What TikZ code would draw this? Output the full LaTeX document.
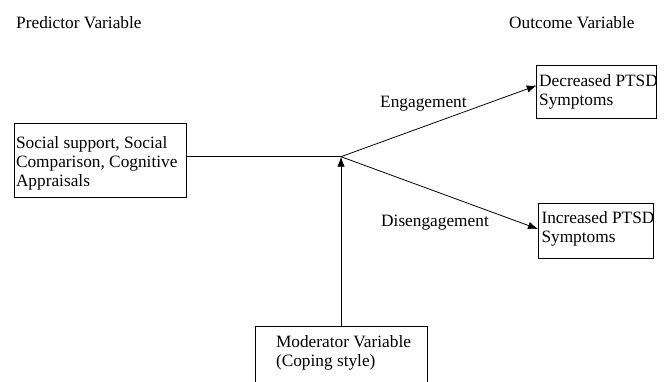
\documentclass[tikz,border=0pt]{standalone}
\usepackage{fontspec}
\setmainfont{Liberation Serif}
\usetikzlibrary{arrows.meta}
\newcommand\bxt[5]{\parbox[c][#2][t]{#1}{\vspace*{#4}\leftskip=#3\relax\hfuzz=20pt\noindent\strut#5}}
\begin{document}
\begin{tikzpicture}[x=1pt,y=-1pt,
  every node/.style={font=\fontsize{17.3}{19}\selectfont},
  boxnode/.style={draw,line width=0.8pt,inner sep=0pt,outer sep=0pt,anchor=north west},
  lbl/.style={inner sep=0pt,anchor=base west},
  conn/.style={line width=0.8pt},
  arr/.style={conn,-{Latex[length=10pt,width=7.5pt]}}]
\clip (0,0) rectangle (667,381);
\fill[white] (0,0) rectangle (667,381);
\node[lbl] (ptitle) at (16,28) {Predictor Variable};
\node[lbl] (otitle) at (509,28) {Outcome Variable};
\node[boxnode] (pred) at (14,123.3) {\bxt{172pt}{74pt}{2pt}{11.4pt}{\mbox{Social support, Social}\\\mbox{Comparison, Cognitive}\\\mbox{Appraisals}}};
\node[boxnode] (dec) at (536.7,65) {\bxt{120pt}{53pt}{2.5pt}{8.4pt}{\mbox{Decreased PTSD}\\\mbox{Symptoms}}};
\node[boxnode] (inc) at (538,203) {\bxt{115pt}{55pt}{3.5pt}{6.7pt}{\mbox{Increased PTSD}\\\mbox{Symptoms}}};
\node[boxnode] (mod) at (255,326) {\bxt{172pt}{80pt}{21pt}{7.7pt}{\mbox{Moderator Variable}\\\mbox{(Coping style)}}};
\coordinate (j) at (341,156.7);
\node[lbl] (eng) at (380,107.6) {Engagement};
\node[lbl] (dis) at (381,226.5) {Disengagement};
\draw[conn] (j -| pred.east) -- (j);
\draw[arr] (mod.north) -- (j);
\draw[arr] (j) -- ([yshift=6pt]dec.west);
\draw[arr] (j) -- ([yshift=1.5pt]inc.west);
\end{tikzpicture}
\end{document}
